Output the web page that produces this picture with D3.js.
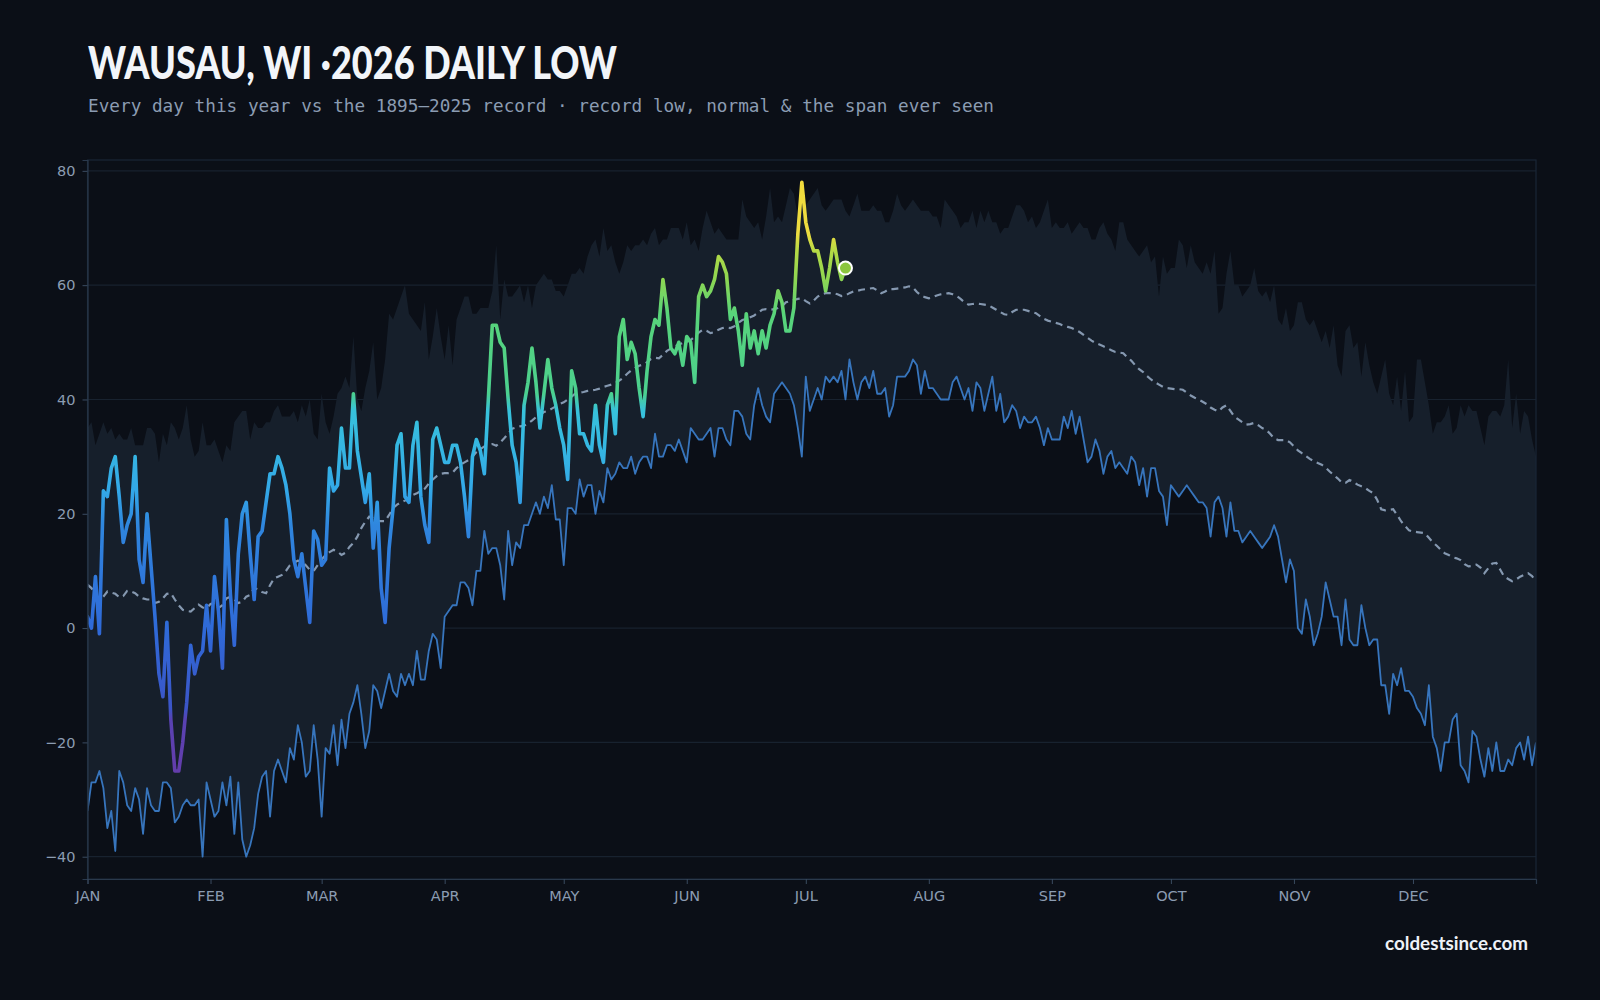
<!DOCTYPE html>
<html><head><meta charset="utf-8">
<script src="https://cdn.jsdelivr.net/npm/d3@7"></script>
<style>
html,body{margin:0;padding:0;background:#0b0f17;}
svg{display:block;}
</style></head>
<body>
<svg id="chart" width="1600" height="1000"></svg>
<script>
// ---------- DATA ----------
const monthLabels = ["JAN","FEB","MAR","APR","MAY","JUN","JUL","AUG","SEP","OCT","NOV","DEC"];
const monthStartDays = [0,31,59,90,120,151,181,212,243,273,304,334];
const yTicks = [-40,-20,0,20,40,60,80];

// record low of the daily low, 1895–2025 (day of year 0..365)
const recordLow = [
-32,-27,-27,-25,-28,-35,-32,-39,-25,-27,-31,-32,-28,-30,-36,-28,-31,-32,-32,-27,
-27,-28,-34,-33,-31,-30,-31,-31,-30,-40,-27,-30,-33,-32,-27,-31,-26,-36,-27,-37,
-40,-38,-35,-29,-26,-25,-33,-25,-23,-25,-27,-21,-23,-17,-20,-26,-25,-17,-23,-33,
-21,-22,-17,-24,-16,-21,-15,-13,-10,-15,-21,-18,-10,-11,-14,-11,-8,-11,-12,-8,
-10,-8,-10,-4,-9,-9,-4,-1,-2,-7,2,3,4,4,8,8,7,4,10,10,
17,13,14,14,11,5,17,11,15,14,18,18,20,22,20,23,21,25,19,19,
11,21,21,20,26,23,25,25,20,24,22,28,26,27,29,28,28,30,27,29,
30,30,28,34,30,30,32,32,31,33,31,29,35,34,33,33,34,35,30,35,
35,33,32,38,38,37,34,33,39,42,39,37,36,41,42,43,42,41,39,35,
30,44,38,40,42,40,44,43,44,43,45,40,47,43,40,43,44,42,45,41,
41,42,37,39,44,44,44,45,47,46,41,45,42,42,41,40,40,40,43,44,
42,40,42,38,43,42,38,41,44,38,41,36,37,39,38,35,37,36,36,37,
35,32,35,33,33,33,37,35,38,34,37,33,29,30,33,31,27,30,31,28,
29,28,27,30,29,25,28,23,28,28,24,23,18,25,24,23,24,25,24,23,
22,22,21,16,22,23,21,16,22,17,17,15,16,17,16,15,14,15,16,18,
16,12,8,12,10,0,-1,5,2,-3,-1,2,8,5,2,2,-3,5,-2,-3,
-3,4,0,-3,-2,-2,-10,-10,-15,-8,-10,-7,-11,-11,-12,-14,-15,-17,-10,-19,
-21,-25,-20,-20,-16,-15,-24,-25,-27,-18,-19,-23,-26,-21,-25,-20,-25,-25,-23,-24,
-21,-20,-23,-19,-24,-20
];

// record high of the daily low (top of the span ever seen)
const recordHigh = [
35,36,32,34,36,34,35,33,34,33,33,35,32,32,32,35,35,34,29,34,
32,36,35,33,35,39,33,30,31,36,32,32,33,31,29,32,31,36,37,38,
38,33,36,35,35,36,36,38,39,37,37,37,38,36,39,37,40,34,33,41,
36,34,37,41,42,44,42,51,40,38,42,45,50,40,42,47,55,54,56,58,
60,55,54,53,52,57,47,51,56,51,47,53,46,54,56,58,58,55,55,56,
56,56,59,67,54,61,58,58,59,60,57,60,56,60,61,62,61,61,59,59,
58,60,62,62,63,62,65,67,68,65,70,66,67,64,62,64,67,66,67,67,
68,67,69,70,67,68,68,70,70,70,68,71,67,68,66,70,73,71,69,70,
69,68,68,68,68,75,72,71,70,71,68,72,77,71,72,71,74,77,76,72,
75,74,75,76,77,74,73,74,75,75,75,73,72,74,76,73,73,73,74,73,
73,71,71,73,76,74,73,74,75,74,73,73,73,72,72,70,75,74,73,72,
70,71,71,73,70,73,71,73,71,71,69,70,70,72,74,74,73,71,72,70,
71,73,75,70,71,70,70,71,69,70,71,70,70,68,68,70,71,69,68,66,
71,71,68,67,66,65,66,67,64,65,58,65,62,63,63,68,67,63,67,64,
63,62,64,62,66,55,56,62,66,60,60,58,59,60,63,59,58,59,57,60,
54,53,56,52,53,57,57,54,53,54,52,50,52,49,53,46,44,52,53,49,
50,44,50,46,43,41,44,47,41,39,44,38,45,36,37,47,47,43,39,34,
36,36,37,39,34,35,39,37,39,38,38,35,32,37,38,38,37,39,47,35,
41,34,38,37,33,30
];

// normal daily low
const normalLow = [
7.6,7,6,5,5.5,6.4,6.2,6,5.4,5.6,6.5,6.4,6.1,5.5,5.2,5,5,4.4,4.6,5.2,
6,6.1,5,4,3.2,3,2.9,3.5,4.1,3.6,3.5,4.2,4.4,3.5,4,5.2,5.5,5,4.4,4.6,
5.5,5.8,7,6.8,6.3,6.1,7.5,8.7,9,9.3,10,11,11.4,11.8,11.7,11,10.2,10,11,12,
12.8,13.3,13.7,13.4,12.8,13.2,14.2,14.9,16,17.5,18.6,19.5,19.2,18.7,18.7,18.7,19.8,21,21.6,22,
22.3,22.7,23.3,23.6,24,24.4,25.3,26,26.6,27,27.1,27.1,27.2,28,28.6,29,29.4,30,30.8,31.3,
31.8,32.1,32.2,31.9,32.5,33.2,34,34.9,35.1,35.3,35.4,35.8,36.3,36.9,37.3,37.8,38,38.4,38.8,39.2,
39.5,40,40.5,41.1,41.2,41.3,41.5,41.6,41.7,41.9,42.2,42.4,42.6,42.9,43.3,43.8,44.5,45.1,45.5,45.9,
46.1,46.5,47.1,47.3,47.2,47.8,48.5,48.9,49.3,49.6,49.9,50.1,50.4,51,51.7,52.2,52,51.6,51.8,52.2,
52.5,52.6,52.5,52.8,53.4,53.9,54.1,54.4,54.7,55.2,55.7,55.8,55.7,55.8,56,56.3,57,57.2,57.4,57.6,
57.7,57.2,56.8,57.3,58,58.4,58.6,58.6,58.6,58.4,58.1,58.2,58.6,58.9,59,59.2,59.3,59.4,59.5,59.1,
58.6,58.9,59.3,59.3,59.4,59.5,59.6,59.8,59.6,58.8,58.2,57.9,57.7,57.9,58.2,58.4,58.5,58.6,58.4,58.1,
57.6,57,56.6,56.7,56.8,56.7,56.6,56.5,56.1,55.7,55.3,54.9,54.8,55.3,55.7,55.7,55.7,55.5,55.3,55.1,
54.6,54.1,53.8,53.6,53.4,53.2,52.9,52.7,52.5,52.2,51.8,51.3,50.8,50.3,49.9,49.6,49.3,49,48.6,48.3,
48.2,48.1,47.4,46.8,46,45.3,44.8,44.1,43.5,43,42.6,42.2,42,41.9,41.8,41.8,41.7,41.2,40.7,40.3,
40,39.6,39.2,38.6,38.2,37.9,38.6,39,38,37,36.5,36,35.6,35.7,35.9,35.5,35,34.7,34,33.2,
32.9,32.9,32.9,32.5,31.8,31.1,30.6,30.1,29.6,29.2,28.9,28.6,28.1,27.4,26.8,26.2,25.5,25.4,25.9,25.6,
25.1,24.8,24.5,24,23.6,22.4,20.8,20.6,20.7,20.8,19.8,18.7,17.9,17.1,16.9,16.8,16.7,16.6,15.8,15,
14.4,13.7,13.1,12.8,12.4,12.2,11.9,11.2,10.8,10.9,11.1,10.6,9.6,10.5,11.3,11.4,10.2,9,8.6,8.2,
8.5,9,9.3,9.6,9.1,8.2
];

// 2026 daily low so far (Jan 1 .. Jul 11)
const low2026 = [
2,0,9,-1,24,23,28,30,23,15,18,20,30,12,8,20,11,2,-8,-12,
1,-16,-25,-25,-20,-13,-3,-8,-5,-4,4,-4,9,3,-7,19,6,-3,13,20,
22,13,5,16,17,22,27,27,30,28,25,20,12,9,13,7,1,17,15.5,11,
12,28,24,25,35,28,28,41,31,26.5,22,27,14,22,7,1,14,21,32,34,
23,22,32,36,23,18,15,33,35,32,29,29,32,32,29,23,16,30,33,31,
27,40,53,53,50,49,40,32,29,22,39,43,49,43,35,41,47,42,39,35,
32,26,45,42,34,34,32,31,39,32,29,39,41,34,51,54,47,50,48,42,
37,45,51,54,53,61,56,49,48,50,46,51,50,43,58,60,58,59,61,65,
64,62,54,56,52,46,55,49,52,48,52,49,53,55,59,57,52,52,56,69,
78,71,68,66,66,63,59,63,68,64,61,63
];

// colour stops of the 2026 line (value -> colour)
const lineStopValues = [-30,-16,-14,0,18,24,38,41,55,61,66,69,80];
const lineStopColors = ["#6a3aa8","#5842b2","#3b55c8","#2f6ad8","#2f86de","#33a8e8","#37c2dc","#4bd08f","#58d47a","#8dd652","#b5da45","#ecdc40","#f3dc3c"];

// ---------- LAYOUT ----------
const W = 1600, H = 1000;
const m = {left: 87.5, right: 1536, top: 160, bottom: 879};
const svg = d3.select("#chart");

const x = d3.scaleLinear().domain([0, 365]).range([m.left, m.right]);
const y = d3.scaleLinear().domain([-43.9, 81.9]).range([m.bottom, m.top]);

svg.append("rect").attr("width", W).attr("height", H).attr("fill", "#0b0f17");

// gradient for 2026 line
const defs = svg.append("defs");
const grad = defs.append("linearGradient").attr("id", "g26")
  .attr("gradientUnits", "userSpaceOnUse")
  .attr("x1", 0).attr("x2", 0)
  .attr("y1", y(lineStopValues[0])).attr("y2", y(lineStopValues[lineStopValues.length-1]));
const vMin = lineStopValues[0], vMax = lineStopValues[lineStopValues.length-1];
lineStopValues.forEach((v, i) => {
  grad.append("stop").attr("offset", (v - vMin) / (vMax - vMin)).attr("stop-color", lineStopColors[i]);
});
defs.append("clipPath").attr("id", "plotclip").append("rect")
  .attr("x", m.left).attr("y", m.top).attr("width", m.right - m.left).attr("height", m.bottom - m.top);

// gridlines
svg.append("g").selectAll("line").data(yTicks).join("line")
  .attr("x1", m.left).attr("x2", m.right)
  .attr("y1", d => y(d)).attr("y2", d => y(d))
  .attr("stroke", "#18222f").attr("stroke-width", 1.2);

const plot = svg.append("g").attr("clip-path", "url(#plotclip)");

// band: span ever seen
const band = d3.area()
  .x((d, i) => x(i))
  .y0((d, i) => y(recordLow[i]))
  .y1((d, i) => y(recordHigh[i]));
plot.append("path").datum(recordLow).attr("d", band).attr("fill", "#161f2b");

// record low line
const lineOf = arr => d3.line().x((d, i) => x(i)).y(d => y(d))(arr);
plot.append("path").attr("d", lineOf(recordLow))
  .attr("fill", "none").attr("stroke", "#3775bd").attr("stroke-width", 1.8)
  .attr("stroke-linejoin", "round");

// normal dashed
plot.append("path").attr("d", lineOf(normalLow))
  .attr("fill", "none").attr("stroke", "#8598b0").attr("stroke-width", 2.2)
  .attr("stroke-dasharray", "7 5");

// 2026 line
plot.append("path").attr("d", lineOf(low2026))
  .attr("fill", "none").attr("stroke", "url(#g26)").attr("stroke-width", 3.6)
  .attr("stroke-linejoin", "round").attr("stroke-linecap", "round");

// today dot
const lastI = low2026.length - 1;
svg.append("circle").attr("cx", x(lastI)).attr("cy", y(low2026[lastI])).attr("r", 6.5)
  .attr("fill", "#8cc63f").attr("stroke", "#ffffff").attr("stroke-width", 2);

// frame
svg.append("rect").attr("x", m.left).attr("y", m.top)
  .attr("width", m.right - m.left).attr("height", m.bottom - m.top)
  .attr("fill", "none").attr("stroke", "#1a2636").attr("stroke-width", 1.2);

// axes
const fmt = d => (d < 0 ? "\u2212" + Math.abs(d) : String(d));
const yAxis = svg.append("g").attr("transform", `translate(${m.left},0)`)
  .call(d3.axisLeft(y).tickValues(yTicks).tickFormat(fmt).tickSize(5).tickPadding(7));
const xAxis = svg.append("g").attr("transform", `translate(0,${m.bottom})`)
  .call(d3.axisBottom(x).tickValues(monthStartDays).tickFormat((d, i) => monthLabels[i]).tickSize(5).tickPadding(7));
[yAxis, xAxis].forEach(a => {
  a.select(".domain").attr("stroke", "#2a394c").attr("stroke-width", 1.2);
  a.selectAll(".tick line").attr("stroke", "#3a4b60");
  a.selectAll(".tick text").attr("fill", "#8b9cb2")
    .style("font-family", "'DejaVu Sans', sans-serif").style("font-size", "14.5px");
});

// titles
svg.append("text").attr("x", 88).attr("y", 78.5)
  .attr("textLength", 529).attr("lengthAdjust", "spacingAndGlyphs")
  .style("font-family", "Lato, 'Open Sans', sans-serif").style("font-weight", 900)
  .style("font-size", "45px").attr("fill", "#f2f5f9")
  .text("WAUSAU, WI \u00b72026 DAILY LOW");

svg.append("text").attr("x", 88).attr("y", 112)
  .attr("textLength", 906).attr("lengthAdjust", "spacingAndGlyphs")
  .style("font-family", "'DejaVu Sans Mono', monospace").style("font-size", "17px")
  .attr("fill", "#8b9cb2")
  .text("Every day this year vs the 1895\u20132025 record \u00b7 record low, normal & the span ever seen");

svg.append("text").attr("x", 1528).attr("y", 950).attr("text-anchor", "end")
  .attr("textLength", 143).attr("lengthAdjust", "spacingAndGlyphs")
  .style("font-family", "Lato, 'Open Sans', sans-serif").style("font-weight", 700)
  .style("font-size", "18px").attr("fill", "#eef2f7")
  .text("coldestsince.com");
</script>
</body></html>
